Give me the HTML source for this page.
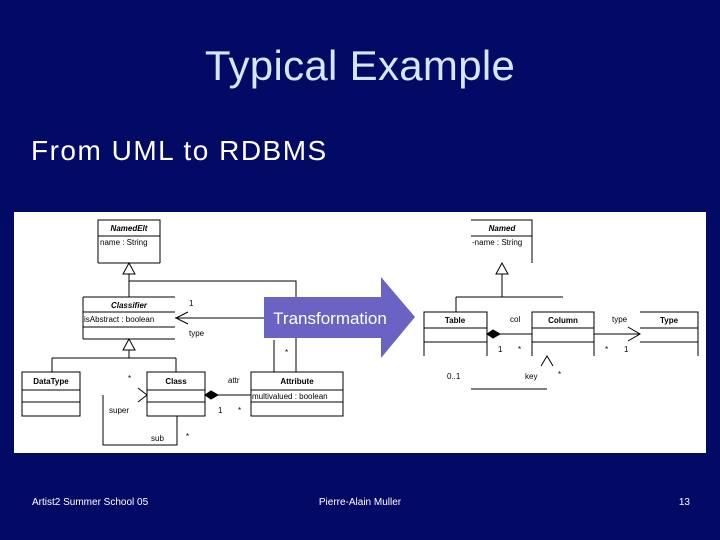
<!DOCTYPE html>
<html><head><meta charset="utf-8"><style>
html,body{margin:0;padding:0;background:#030a66;}
svg{display:block}
</style></head><body>
<svg width="720" height="540" viewBox="0 0 720 540" xmlns="http://www.w3.org/2000/svg" font-family="Liberation Sans, sans-serif">
<rect width="720" height="540" fill="#030a66"/>
<text x="360" y="80" text-anchor="middle" font-size="42" fill="#d6e6ff" letter-spacing="0.3">Typical Example</text>
<text x="31" y="160" font-size="28" fill="#ffffff" letter-spacing="1.5">From UML to RDBMS</text>
<rect x="14" y="212" width="692" height="241" fill="#ffffff"/>
<g stroke="#000" stroke-width="1" fill="none">
<path d="M98,263V220H160V263M98,236H160M98,263H160"/>
<path d="M129,263L123,274H135Z" fill="#fff"/>
<path d="M129,274V297M129,281H296V372M274,340V372"/>
<path d="M83,297H175M83,312H175M83,327H175M83,339H175M83,297V339"/>
<path d="M296,318H175M188,312L176,318L188,324"/>
<path d="M129,339L123,350H135Z" fill="#fff"/>
<path d="M129,350V358M52,358H176M52,358V372M176,358V372"/>
<rect x="22" y="372" width="58" height="44"/><path d="M22,390H80M22,402H80"/>
<rect x="147" y="372" width="58" height="44"/><path d="M147,390H205M147,402H205"/>
<path d="M138,388L147,395L138,402"/>
<path d="M103,395V445H177V416"/>
<rect x="251" y="372" width="92" height="44"/><path d="M251,390H343M251,402H343"/>
<path d="M218,395H251"/>
<path d="M205,395L211,391L218,395L211,399Z" fill="#000"/>
<path d="M471,220H532V263M471,236H532"/>
<path d="M502,263L496,274H508Z" fill="#fff"/>
<path d="M502,274V297M456,297H563M456,297V312"/>
<path d="M424,356V312H487V356M424,328H487M424,342H487"/>
<path d="M532,356V312H594V356M532,328H594M532,342H594"/>
<path d="M640,312H698V356M640,328H698M640,342H698"/>
<path d="M500,334H532M594,334H640M628,327L640,334L628,341"/>
<path d="M487,334L493,330L500,334L493,338Z" fill="#000"/>
<path d="M541,366L547,356L553,366M471,389H547"/>
</g>
<g font-size="8" fill="#000">
<text x="129" y="231" text-anchor="middle" font-style="italic" font-weight="bold">NamedElt</text>
<text x="100" y="245">name : String</text>
<text x="129" y="308" text-anchor="middle" font-style="italic" font-weight="bold">Classifier</text>
<text x="84" y="322">isAbstract : boolean</text>
<text x="189" y="306">1</text>
<text x="189" y="336">type</text>
<text x="51" y="384" text-anchor="middle" font-weight="bold">DataType</text>
<text x="176" y="384" text-anchor="middle" font-weight="bold">Class</text>
<text x="297" y="384" text-anchor="middle" font-weight="bold">Attribute</text>
<text x="252" y="399">multivalued : boolean</text>
<text x="128" y="381">*</text>
<text x="228" y="383">attr</text>
<text x="218" y="413">1</text>
<text x="238" y="413">*</text>
<text x="109" y="413">super</text>
<text x="151" y="441">sub</text>
<text x="186" y="439">*</text>
<text x="285" y="355">*</text>
<text x="502" y="231" text-anchor="middle" font-style="italic" font-weight="bold">Named</text>
<text x="472" y="245">-name : String</text>
<text x="455" y="323" text-anchor="middle" font-weight="bold">Table</text>
<text x="563" y="323" text-anchor="middle" font-weight="bold">Column</text>
<text x="669" y="323" text-anchor="middle" font-weight="bold">Type</text>
<text x="510" y="322">col</text>
<text x="612" y="322">type</text>
<text x="498" y="352">1</text>
<text x="518" y="352">*</text>
<text x="605" y="352">*</text>
<text x="624" y="352">1</text>
<text x="447" y="379">0..1</text>
<text x="525" y="379">key</text>
<text x="558" y="377">*</text>
</g>
<path d="M264,297H381V277L415,317L381,358V338H264Z" fill="#6a63c4"/>
<text x="330" y="324" text-anchor="middle" font-size="17" fill="#fff">Transformation</text>
<g font-size="10" fill="#ffffff">
<text x="32" y="505">Artist2 Summer School 05</text>
<text x="360" y="505" text-anchor="middle">Pierre-Alain Muller</text>
<text x="690" y="505" text-anchor="end">13</text>
</g>
</svg>
</body></html>
